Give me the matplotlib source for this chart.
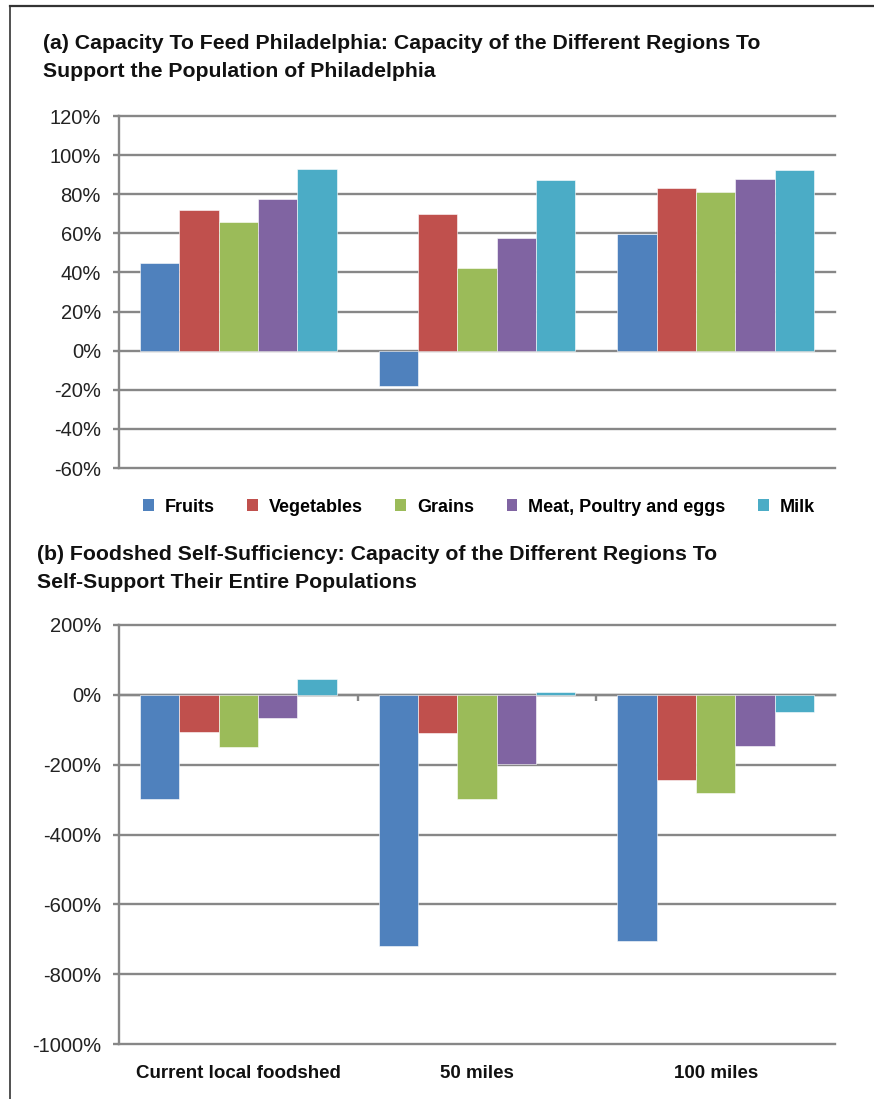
import numpy as np
import matplotlib
matplotlib.use('Agg')
import matplotlib.pyplot as plt
from matplotlib.patches import Patch
from matplotlib.lines import Line2D
from matplotlib.ticker import FuncFormatter

# data
regions = ['Current local foodshed', '50 miles', '100 miles']
series = ['Fruits', 'Vegetables', 'Grains', 'Meat, Poultry and eggs', 'Milk']
colors = ['#4F81BD', '#C0504D', '#9BBB59', '#8064A2', '#4BACC6']

# (a) capacity to feed Philadelphia, % (rows = regions)
feed_fruits = [45, -18, 59.5]
feed_veg = [72, 70, 83]
feed_grains = [66, 42.5, 81]
feed_meat = [77.5, 57.5, 88]
feed_milk = [93, 87.5, 92.5]

# (b) foodshed self-sufficiency, %
self_fruits = [-298, -720, -705]
self_veg = [-106, -110, -244]
self_grains = [-150, -298, -280]
self_meat = [-66, -198, -146]
self_milk = [46, 9, -48]

feed = [feed_fruits, feed_veg, feed_grains, feed_meat, feed_milk]
selfsuf = [self_fruits, self_veg, self_grains, self_meat, self_milk]

plt.rcParams['font.family'] = ['Liberation Sans', 'DejaVu Sans']

GRID = '#878787'
W, H = 874, 1099
fig = plt.figure(figsize=(W / 100, H / 100), dpi=100)


def px_axes(left, top, right, bottom):
    return fig.add_axes([left / W, 1 - bottom / H, (right - left) / W, (bottom - top) / H])


def draw_bars(ax, data):
    x = np.arange(len(regions))
    bw = 0.165
    for i, vals in enumerate(data):
        ax.bar(x + (i - 2) * bw, vals, bw, color=colors[i],
               edgecolor='white', linewidth=0.4, zorder=3)
    ax.set_xlim(-0.5, 2.5)
    ax.set_axisbelow(True)
    ax.grid(axis='y', color=GRID, linewidth=1.7)
    for s in ['top', 'right']:
        ax.spines[s].set_visible(False)
    ax.spines['left'].set_color(GRID)
    ax.spines['left'].set_linewidth(1.7)
    ax.tick_params(axis='y', colors=GRID, length=4.5, width=1.7, labelsize=14.5,
                   labelcolor='#222222', pad=8.5)
    ax.yaxis.set_major_formatter(FuncFormatter(lambda v, p: f'{v:.0f}%'))


def unclip_grid(ax):
    for ln in ax.get_ygridlines():
        ln.set_clip_on(False)


# panel (a)
ax1 = px_axes(119, 116, 835, 468)
draw_bars(ax1, feed)
ax1.set_ylim(-60, 120)
ax1.set_yticks(np.arange(-60, 121, 20))
ax1.spines['bottom'].set_visible(False)
ax1.set_xticks([])
unclip_grid(ax1)

handles = [Patch(facecolor=c, edgecolor='none') for c in colors]
fig.legend(handles, series, loc='center', bbox_to_anchor=(479 / W, 1 - 507 / H),
           ncol=5, frameon=False, handlelength=0.6, handleheight=0.6,
           handletextpad=0.6, columnspacing=1.8,
           prop={'size': 13, 'weight': 'bold'})

# panel (b)
ax2 = px_axes(119, 625, 835, 1044)
draw_bars(ax2, selfsuf)
ax2.set_ylim(-1000, 200)
ax2.set_yticks(np.arange(-1000, 201, 200))
ax2.spines['bottom'].set_position(('data', 0))
ax2.spines['bottom'].set_color(GRID)
ax2.spines['bottom'].set_linewidth(1.7)
ax2.set_xticks([0.5, 1.5])
ax2.set_xticklabels([])
ax2.tick_params(axis='x', colors=GRID, length=4, width=1.7, direction='out')
unclip_grid(ax2)

sec = ax2.secondary_xaxis(location=0)
sec.set_xticks(np.arange(len(regions)))
sec.set_xticklabels(regions, fontweight='bold', fontsize=13.5, color='#111111')
sec.tick_params(length=0, pad=15)
sec.spines['bottom'].set_visible(False)

# titles
title_kw = dict(fontsize=15.3, fontweight='bold', color='#111111',
                ha='left', va='top', linespacing=1.62)
fig.text(43 / W, 1 - 34 / H,
         '(a) Capacity To Feed Philadelphia: Capacity of the Different Regions To\n'
         'Support the Population of Philadelphia', **title_kw)
fig.text(37 / W, 1 - 545 / H,
         '(b) Foodshed Self-Sufficiency: Capacity of the Different Regions To\n'
         'Self-Support Their Entire Populations', **title_kw)

# frame lines on the top and left edges
fig.add_artist(Line2D([10 / W, 10 / W], [0, 1 - 6 / H], color='#333333', linewidth=1.2))
fig.add_artist(Line2D([10 / W, 1], [1 - 6 / H, 1 - 6 / H], color='#333333', linewidth=1.6))

fig.savefig('out.png', dpi=100)
